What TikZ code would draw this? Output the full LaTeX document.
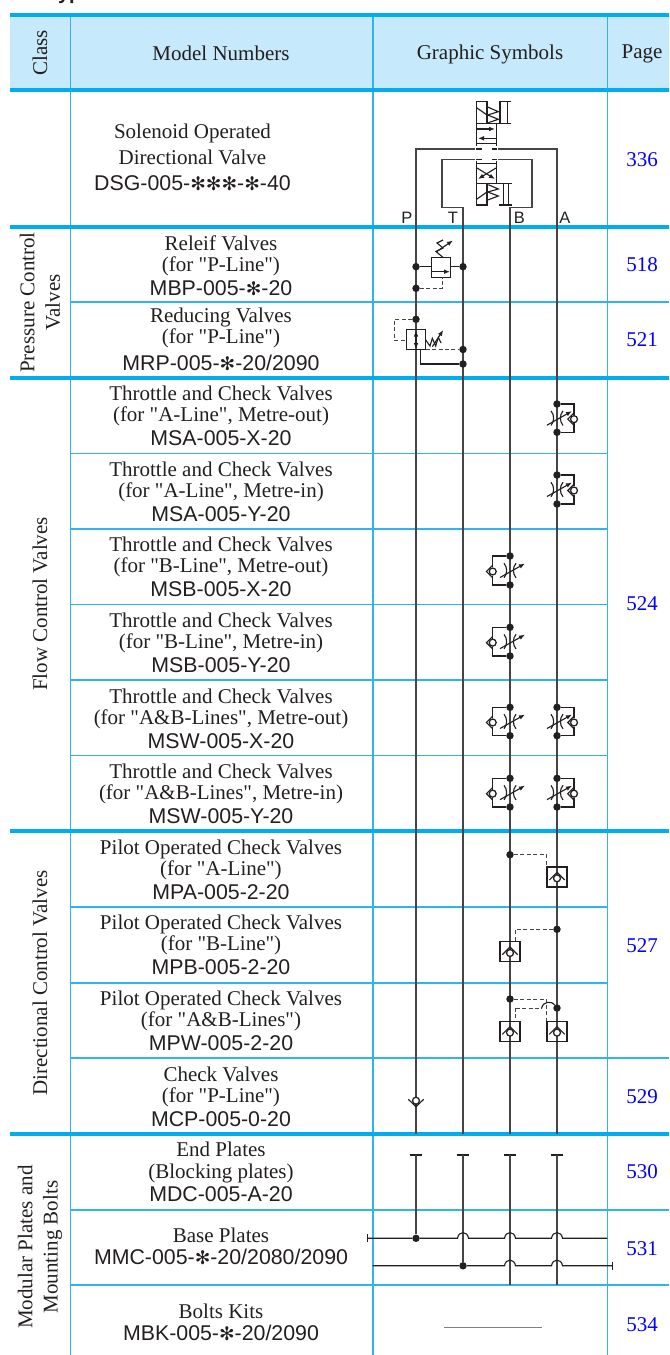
\documentclass[tikz,border=0pt]{standalone}
\usepackage{fontspec}
\usetikzlibrary{arrows.meta}
\setmainfont{Liberation Serif}
\newfontfamily\sansf{Liberation Sans}
\newfontfamily\symf{DejaVu Sans}
\definecolor{rulecol}{HTML}{00AEEF}
\definecolor{thincol}{HTML}{2FB4EC}
\definecolor{headcol}{HTML}{C6E9FB}
\definecolor{inkcol}{HTML}{231F20}
\definecolor{pipecol}{HTML}{454545}
\tikzstyle{thick rule}=[draw=rulecol,line width=2.6pt]
\tikzstyle{thin rule}=[draw=thincol,line width=0.8pt]
\tikzstyle{modeltext}=[font=\fontsize{15.75}{15.75}\selectfont,text=inkcol,align=center,inner sep=0pt]
\tikzstyle{classtext}=[font=\fontsize{15.75}{19}\selectfont,text=inkcol,align=center,inner sep=0pt,rotate=90]
\tikzstyle{pagetext}=[font=\fontsize{15.75}{15.75}\selectfont,text=blue,inner sep=0pt]
\tikzstyle{porttext}=[font=\sansf\fontsize{12.4}{12.4}\selectfont,text=inkcol,inner sep=0pt]
\tikzstyle{pipe}=[draw=pipecol,line width=1pt]
\tikzstyle{sym}=[draw=inkcol,line width=0.85pt]
\tikzstyle{pilot}=[draw=pipecol,line width=0.75pt,dash pattern=on 3pt off 1.8pt]
\tikzstyle{jdot}=[circle,fill=inkcol,inner sep=0pt,minimum size=5.6pt]
\tikzstyle{ball}=[circle,draw=inkcol,fill=white,line width=0.95pt,inner sep=0pt,minimum size=5.2pt]
\tikzstyle{vbox}=[draw=inkcol,line width=0.9pt,inner sep=0pt,minimum size=15pt]
\newcommand{\stk}{{\symf\fontsize{14}{14}\selectfont ✻}}
\newcommand{\mdl}[1]{{\sansf\fontsize{16}{15.75}\selectfont #1}}
\newcommand{\qt}{\textquotedbl{}}
\newcommand{\throttle}[2]{
\draw[sym] (#1-6,#2-7.3) .. controls (#1-2.5,#2-3) and (#1-2.5,#2+3) .. (#1-6,#2+7.3);
\draw[sym] (#1+6,#2-7.3) .. controls (#1+2.5,#2-3) and (#1+2.5,#2+3) .. (#1+6,#2+7.3);
\draw[sym,-{Latex[length=4.5pt,width=3.5pt]}] (#1-10,#2+7) -- (#1+15,#2-7);
}
\newcommand{\flowcheck}[5]{
\pgfmathsetmacro{\cy}{(#4+#5)/2}
\node[jdot] (#1u) at (#2,#4) {};
\node[jdot] (#1d) at (#2,#5) {};
\node[ball] (#1c) at (#3,\cy+1) {};
\draw[sym] (#1u) -| (#1c.north);
\draw[sym] (#1d) -| (#1c.south);
\draw[sym] (#3,\cy+1-6.3) -- (#3-6.3,\cy+1) -- (#3,\cy+1+6.3);
\throttle{#2}{\cy}
}
\newcommand{\pocheck}[3]{
\node[vbox] (#1) at (#2,#3) {};
\node[ball] (#1c) at (#2,#3+1.3) {};
\draw[sym] (#2-7.7,#3+3) -- (#2,#3-4.7) -- (#2+7.7,#3+3);
}
\begin{document}
\begin{tikzpicture}[x=0.75pt,y=-0.75pt]
\useasboundingbox (0,0) rectangle (669,1355);
\node[font=\sansf\bfseries\fontsize{15}{15}\selectfont,text=inkcol,anchor=base west,inner sep=0pt] (title) at (47,0) {Types};
\fill[headcol] (10,15) rectangle (669,90);
\draw[thin rule] (70.5,15)--(70.5,1355);
\draw[thin rule] (373,15)--(373,1355);
\draw[thin rule] (607.3,15)--(607.3,1355);
\draw[thin rule] (70.5,302)--(669,302);
\draw[thin rule] (70.5,453.5)--(607.3,453.5);
\draw[thin rule] (70.5,529)--(607.3,529);
\draw[thin rule] (70.5,604.5)--(607.3,604.5);
\draw[thin rule] (70.5,680)--(607.3,680);
\draw[thin rule] (70.5,755.5)--(607.3,755.5);
\draw[thin rule] (70.5,907)--(607.3,907);
\draw[thin rule] (70.5,983)--(607.3,983);
\draw[thin rule] (70.5,1058)--(669,1058);
\draw[thin rule] (70.5,1210)--(669,1210);
\draw[thin rule] (70.5,1285)--(669,1285);
\draw[thick rule] (10,15)--(669,15);
\draw[thick rule] (10,90)--(669,90);
\draw[thick rule] (10,227)--(669,227);
\draw[thick rule] (10,378)--(669,378);
\draw[thick rule] (10,831)--(669,831);
\draw[thick rule] (10,1134)--(669,1134);
\node[classtext] (hclass) at (40,53) {Class};
\node[modeltext] (hmodel) at (221,53) {Model Numbers};
\node[modeltext] (hsym) at (490,54) {Graphic Symbols};
\node[modeltext] (hpage) at (642,54) {Page};
\node[classtext] (cpress) at (40,302.5) {Pressure Control\\Valves};
\node[classtext] (cflow) at (40,604) {Flow Control Valves};
\node[classtext] (cdir) at (40,983) {Directional Control Valves};
\node[classtext] (cmod) at (40,1247) {Modular Plates and\\Mounting Bolts};
\node[modeltext] (rsol) at (192.5,157.5) {Solenoid Operated\\[4pt]Directional Valve\\[4pt]\mdl{DSG-005-\stk\stk\stk-\stk-40}};
\node[modeltext] (rmbp) at (221,266) {Releif Valves\\(for \qt P-Line\qt)\\[2.5pt]\mdl{MBP-005-\stk-20}};
\node[modeltext] (rmrp) at (221,339.5) {Reducing Valves\\(for \qt P-Line\qt)\\[4pt]\mdl{MRP-005-\stk-20/2090}};
\node[modeltext] (rsax) at (221,415.5) {Throttle and Check Valves\\(for \qt A-Line\qt, Metre-out)\\[2.5pt]\mdl{MSA-005-X-20}};
\node[modeltext] (rsay) at (221,491.5) {Throttle and Check Valves\\(for \qt A-Line\qt, Metre-in)\\[2.5pt]\mdl{MSA-005-Y-20}};
\node[modeltext] (rsbx) at (221,567) {Throttle and Check Valves\\(for \qt B-Line\qt, Metre-out)\\[2.5pt]\mdl{MSB-005-X-20}};
\node[modeltext] (rsby) at (221,643) {Throttle and Check Valves\\(for \qt B-Line\qt, Metre-in)\\[2.5pt]\mdl{MSB-005-Y-20}};
\node[modeltext] (rswx) at (221,718.5) {Throttle and Check Valves\\(for \qt A\&B-Lines\qt, Metre-out)\\[2.5pt]\mdl{MSW-005-X-20}};
\node[modeltext] (rswy) at (221,794) {Throttle and Check Valves\\(for \qt A\&B-Lines\qt, Metre-in)\\[2.5pt]\mdl{MSW-005-Y-20}};
\node[modeltext] (rpa) at (221,869.5) {Pilot Operated Check Valves\\(for \qt A-Line\qt)\\[2.5pt]\mdl{MPA-005-2-20}};
\node[modeltext] (rpb) at (221,945) {Pilot Operated Check Valves\\(for \qt B-Line\qt)\\[2.5pt]\mdl{MPB-005-2-20}};
\node[modeltext] (rpw) at (221,1021) {Pilot Operated Check Valves\\(for \qt A\&B-Lines\qt)\\[2.5pt]\mdl{MPW-005-2-20}};
\node[modeltext] (rcp) at (221,1096.5) {Check Valves\\(for \qt P-Line\qt)\\[2.5pt]\mdl{MCP-005-0-20}};
\node[modeltext] (rdc) at (221,1171.5) {End Plates\\[1pt](Blocking plates)\\[1pt]\mdl{MDC-005-A-20}};
\node[modeltext] (rmc) at (221,1246.5) {Base Plates\\[1pt]\mdl{MMC-005-\stk-20/2080/2090}};
\node[modeltext] (rbk) at (221,1322.5) {Bolts Kits\\[1pt]\mdl{MBK-005-\stk-20/2090}};
\node[pagetext] (p336) at (642,160) {336};
\node[pagetext] (p518) at (642,265) {518};
\node[pagetext] (p521) at (642,340) {521};
\node[pagetext] (p524) at (642,604) {524};
\node[pagetext] (p527) at (642,946) {527};
\node[pagetext] (p529) at (642,1097) {529};
\node[pagetext] (p530) at (642,1172) {530};
\node[pagetext] (p531) at (642,1249) {531};
\node[pagetext] (p534) at (642,1325) {534};
\node[porttext] (lblp) at (407,218) {P};
\node[porttext] (lblt) at (453,218) {T};
\node[porttext] (lblb) at (519.5,218) {B};
\node[porttext] (lbla) at (565,218) {A};
\coordinate (ptop) at (476.3,149);
\coordinate (pcor) at (416,149);
\coordinate (acor) at (557,149);
\coordinate (atop) at (496.7,149);
\coordinate (ttop) at (476.3,159.5);
\coordinate (btop) at (496.7,159.5);
\coordinate (tcor) at (442,159.5);
\coordinate (bcor) at (532,159.5);
\coordinate (tkn) at (463,207.5);
\coordinate (bkn) at (510,207.5);
\coordinate (tcap) at (463,1134);
\coordinate (pcap) at (416,1134);
\coordinate (bend) at (510,1134);
\coordinate (aend) at (557,1134);
\draw[pipe] (ptop) -- (pcor) -- (pcap);
\draw[pipe] (atop) -- (acor) -- (aend);
\draw[pipe] (ttop) -- (tcor) |- (tkn) -- (tcap);
\draw[pipe] (btop) -- (bcor) |- (bkn) -- (bend);
\draw[sym] (476.3,101.7) rectangle (487,123.3);
\draw[sym] (476.3,107.5) -- (487,115);
\draw[sym] (487,106.7) -- (498.3,111.7) -- (487.7,115) -- (498.3,119.3) -- (488.3,122.7);
\draw[sym] (500,101.7) -- (500,123.3);
\draw[sym] (507.7,101.7) -- (507.7,123.3);
\draw[sym] (499,101.7) -- (511,101.7);
\draw[sym] (487,123.3) -- (511,123.3);
\draw[sym] (476.3,123.3) rectangle (496.7,183.3);
\draw[sym] (476.3,143.3) -- (496.7,143.3);
\draw[sym] (476.3,163.3) -- (496.7,163.3);
\draw[sym,-{Latex[length=4.5pt,width=3.5pt]}] (476.3,129) -- (495,129);
\draw[sym,{Latex[length=4.5pt,width=3.5pt]}-] (478,138.3) -- (496.7,138.3);
\draw[draw=white,line width=1.6pt] (476.3,146) -- (476.3,161);
\draw[draw=white,line width=1.6pt] (496.7,146) -- (496.7,161);
\draw[sym] (476.3,149) -- (481.5,149);
\draw[sym] (491.5,149) -- (496.7,149);
\draw[sym] (476.3,159.5) -- (481.5,159.5);
\draw[sym] (491.5,159.5) -- (496.7,159.5);
\draw[sym,-{Latex[length=4.5pt,width=3.5pt]}] (477,168) -- (495,179);
\draw[sym,-{Latex[length=4.5pt,width=3.5pt]}] (496,168) -- (478,179);
\draw[sym] (476.3,183.3) rectangle (487,205);
\draw[sym] (476.3,199.5) -- (487,192);
\draw[sym] (488.3,184.7) -- (498.3,189) -- (487.7,192) -- (498.3,196) -- (487.7,200);
\draw[sym] (503.3,183.3) -- (503.3,205);
\draw[sym] (508.3,183.3) -- (508.3,205);
\draw[sym] (496.7,183.3) -- (511.7,183.3);
\draw[sym] (499,205) -- (511.7,205);
\node[vbox,minimum height=14.8pt,minimum width=14.3pt] (relief) at (441.2,267.5) {};
\node[jdot] (rp) at (416,266.7) {};
\node[jdot] (rt) at (463,266.7) {};
\node[jdot] (rx) at (416,288.3) {};
\coordinate (rxk) at (442.3,288.3);
\draw[sym] (rp) -- (431.7,266.7);
\draw[sym] (450.7,266.7) -- (rt);
\draw[sym,-{Latex[length=4.5pt,width=3.5pt]}] (431.7,271.7) -- (450,271.7);
\draw[pilot] (rx) -- (rxk) -- (442.3,277.3);
\draw[sym] (443.3,257.7) -- (436,251.5) -- (443,248) -- (437,243) -- (443,240);
\draw[sym,-{Latex[length=4.5pt,width=3.5pt]}] (436,252) -- (453,240.5);
\node[vbox,minimum height=15.3pt,minimum width=14.6pt] (reduc) at (416,339.5) {};
\node[jdot] (mp) at (416,319.3) {};
\node[jdot] (mt) at (463,349.5) {};
\node[jdot] (ms) at (463,364) {};
\coordinate (mk) at (394.3,319.3);
\coordinate (mk2) at (394.3,340);
\coordinate (mk3) at (420.7,364);
\draw[sym,{Latex[length=4.5pt,width=3.5pt]}-{Latex[length=4.5pt,width=3.5pt]}] (416,330.5) -- (416,349);
\draw[pilot] (mp) -- (mk) -- (mk2) -- (406.3,340);
\draw[pilot] (425.7,349.5) -- (mt);
\draw[sym] (420.7,349.7) -- (mk3) -- (ms);
\draw[sym] (425.7,340) -- (430,346) -- (432.3,338.3) -- (435.7,346) -- (438.3,337.3) -- (441,343);
\draw[sym,-{Latex[length=4.5pt,width=3.5pt]}] (432.3,346.7) -- (443.3,330);
\flowcheck{sax}{557}{574}{404}{432.3}
\flowcheck{say}{557}{574}{475}{504}
\flowcheck{sbx}{510}{492.7}{556}{585}
\flowcheck{sby}{510}{492.7}{627.3}{656}
\flowcheck{swxb}{510}{492.7}{707.3}{735.7}
\flowcheck{swxa}{557}{574}{707.3}{735.7}
\flowcheck{swyb}{510}{492.7}{778.3}{807}
\flowcheck{swya}{557}{574}{778.3}{807}
\pocheck{mpa}{557}{877}
\node[jdot] (mpad) at (510,854.7) {};
\draw[pilot] (mpad) -| (mpa.north west);
\pocheck{mpb}{510}{951.7}
\node[jdot] (mpbd) at (557,929.3) {};
\draw[pilot] (mpbd) -| (515.7,941.7);
\pocheck{mwb}{510}{1031.3}
\pocheck{mwa}{557}{1031.3}
\node[jdot] (mwd1) at (510,999) {};
\node[jdot] (mwd2) at (557,1008) {};
\draw[pilot] (mwd1) -| (mwa.north west);
\coordinate (mwk) at (515.7,1008);
\draw[pilot] (mwk) -- (541.7,1008);
\draw[pilot] (mwk) -- (515.7,1021);
\draw[sym] (541.7,1008) .. controls (543,1001) and (552,1001) .. (mwd2);
\node[ball] (cpc) at (416,1100.7) {};
\draw[sym] (408.3,1099.3) -- (416,1106.7) -- (423.7,1099.3);
\coordinate (ep) at (416,1155);
\coordinate (et) at (463,1155);
\coordinate (eb) at (510,1155);
\coordinate (ea) at (557,1155);
\coordinate (eb2) at (510,1285);
\coordinate (ea2) at (557,1285);
\node[jdot] (bp) at (416,1238.3) {};
\node[jdot] (bt) at (463,1265.8) {};
\draw[sym] (ep) ++(-6.3,0) -- ++(12.6,0);
\draw[sym] (et) ++(-6.3,0) -- ++(12.6,0);
\draw[sym] (eb) ++(-6.3,0) -- ++(12.6,0);
\draw[sym] (ea) ++(-6.3,0) -- ++(12.6,0);
\draw[pipe] (ep) -- (bp);
\draw[pipe] (et) -- (bt);
\draw[pipe] (eb) -- (eb2);
\draw[pipe] (ea) -- (ea2);
\coordinate (ul) at (367.3,1238.3);
\coordinate (ur) at (607.3,1238.3);
\coordinate (ll) at (372.7,1265.8);
\coordinate (lr) at (612.7,1265.8);
\draw[sym] (367.3,1234.3) -- (367.3,1242.3);
\draw[sym] (612.7,1261.8) -- (612.7,1269.8);
\draw[sym] (ul) -- (bp) -- (457.5,1238.3) .. controls (458.5,1230.7) and (467.5,1230.7) .. (468.5,1238.3) -- (504.5,1238.3) .. controls (505.5,1230.7) and (514.5,1230.7) .. (515.5,1238.3) -- (551.5,1238.3) .. controls (552.5,1230.7) and (561.5,1230.7) .. (562.5,1238.3) -- (ur);
\draw[sym] (ll) -- (bt) -- (504.5,1265.8) .. controls (505.5,1258.2) and (514.5,1258.2) .. (515.5,1265.8) -- (551.5,1265.8) .. controls (552.5,1258.2) and (561.5,1258.2) .. (562.5,1265.8) -- (lr);
\coordinate (kl) at (444.3,1327.5);
\coordinate (kr) at (542,1327.5);
\draw[draw=gray,line width=1.1pt] (kl) -- (kr);
\end{tikzpicture}
\end{document}
